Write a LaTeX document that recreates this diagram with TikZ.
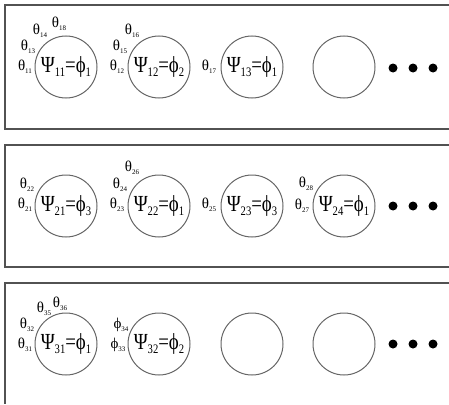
\documentclass[tikz,border=0pt]{standalone}
\usepackage{fontspec}
\setmainfont{Liberation Serif}
\usetikzlibrary{shapes.geometric}
% small parameter label: symbol with a tiny lowered index
\newcommand{\plab}[2]{{\fontsize{15}{15}\selectfont #1}\raisebox{-2.5pt}{\fontsize{7}{7}\selectfont #2}}
% assignment written inside a cell
\newcommand{\asg}[3]{\scalebox{0.82}[1]{\fontsize{23}{23}\selectfont Ψ\raisebox{-3.5pt}{\fontsize{13}{13}\selectfont #1}=ϕ\raisebox{-3.5pt}{\fontsize{13}{13}\selectfont #3}}}
\begin{document}
\begin{tikzpicture}[x=1pt,y=-1pt,
  frame/.style={draw=black!68,line width=1.3pt},
  cell/.style={circle,draw=black!60,line width=1pt,minimum size=62pt,inner sep=0pt},
  par/.style={inner sep=0pt,anchor=center},
  dot/.style={circle,fill=black,minimum size=9pt,inner sep=0pt}]
\useasboundingbox (0,0) rectangle (449,404);

% row frames (open on the right)
\draw[frame] (449,5) -- (5,5) -- (5,129) -- (449,129);
\draw[frame] (449,145) -- (5,145) -- (5,267) -- (449,267);
\draw[frame] (449,283) -- (5,283) -- (5,404);

% row 1
\node[cell] (c11) at (66,67) {\asg{11}{}{1}};
\node[cell] (c12) at (159,67) {\asg{12}{}{2}};
\node[cell] (c13) at (252,67) {\asg{13}{}{1}};
\node[cell] (c14) at (344,67) {};
\node[dot] (d11) at (393,68) {};
\node[dot] (d12) at (413,68) {};
\node[dot] (d13) at (433,68) {};
\node[par] (t11) at (25,67) {\plab{θ}{11}};
\node[par] (t13) at (28,47) {\plab{θ}{13}};
\node[par] (t14) at (40,31) {\plab{θ}{14}};
\node[par] (t18) at (59,24) {\plab{θ}{18}};
\node[par] (t12) at (117,67) {\plab{θ}{12}};
\node[par] (t15) at (120,47) {\plab{θ}{15}};
\node[par] (t16) at (132,31) {\plab{θ}{16}};
\node[par] (t17) at (209,67) {\plab{θ}{17}};

% row 2
\node[cell] (c21) at (66,206) {\asg{21}{}{3}};
\node[cell] (c22) at (159,206) {\asg{22}{}{1}};
\node[cell] (c23) at (252,206) {\asg{23}{}{3}};
\node[cell] (c24) at (344,206) {\asg{24}{}{1}};
\node[dot] (d21) at (393,206) {};
\node[dot] (d22) at (413,206) {};
\node[dot] (d23) at (433,206) {};
\node[par] (t21) at (25,205) {\plab{θ}{21}};
\node[par] (t22) at (27,185) {\plab{θ}{22}};
\node[par] (t23) at (117,205) {\plab{θ}{23}};
\node[par] (t24) at (120,185) {\plab{θ}{24}};
\node[par] (t26) at (132,168) {\plab{θ}{26}};
\node[par] (t25) at (209,205) {\plab{θ}{25}};
\node[par] (t27) at (302,206) {\plab{θ}{27}};
\node[par] (t28) at (306,184) {\plab{θ}{28}};

% row 3
\node[cell] (c31) at (66,344) {\asg{31}{}{1}};
\node[cell] (c32) at (159,344) {\asg{32}{}{2}};
\node[cell] (c33) at (252,344) {};
\node[cell] (c34) at (344,344) {};
\node[dot] (d31) at (393,344) {};
\node[dot] (d32) at (413,344) {};
\node[dot] (d33) at (433,344) {};
\node[par] (t31) at (25,345) {\plab{θ}{31}};
\node[par] (t32) at (27,325) {\plab{θ}{32}};
\node[par] (t35) at (44,309) {\plab{θ}{35}};
\node[par] (t36) at (60,304) {\plab{θ}{36}};
\node[par] (f33) at (118,345) {\plab{ϕ}{33}};
\node[par] (f34) at (121,325) {\plab{ϕ}{34}};
\end{tikzpicture}
\end{document}
